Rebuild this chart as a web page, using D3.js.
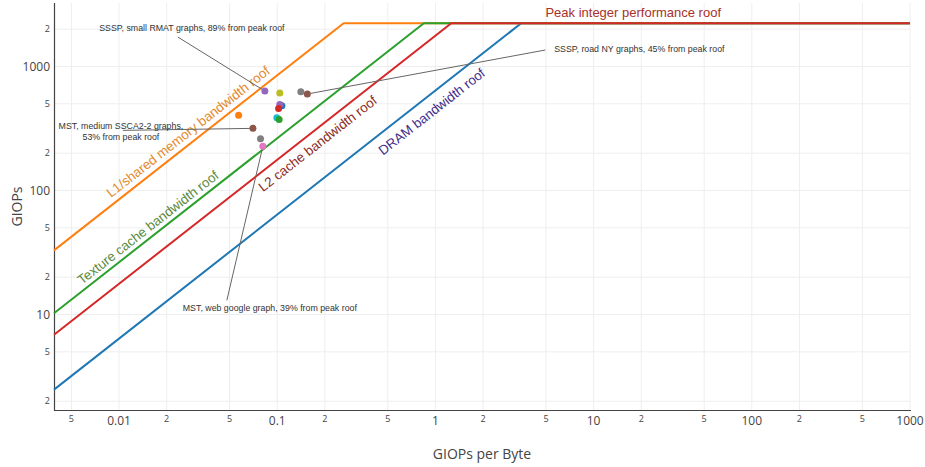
<!DOCTYPE html>
<html>
<head>
<meta charset="utf-8">
<script src="https://cdn.jsdelivr.net/npm/d3@7"></script>
<style>
  body { margin: 0; background: #fff; }
  text { font-family: "Liberation Sans", Arial, sans-serif; }
  .tick-label, .axis-title { font-family: "Open Sans", verdana, arial, sans-serif; fill: #444; }
</style>
</head>
<body>
<div id="roofline"></div>
<script>
// roofs (GIOPs per byte -> GIOPs)
var roofNames = ["DRAM bandwidth roof", "L1/shared memory bandwidth roof", "Texture cache bandwidth roof", "L2 cache bandwidth roof"];
var roofBandwidth = [640, 8480, 2640, 1770];   // GB/s
var peakGiops = 2230;
var peakName = "Peak integer performance roof";

// measured kernels
var pointIntensity = [0.0835, 0.1038, 0.141, 0.155, 0.107, 0.1038, 0.102, 0.057, 0.0994, 0.1028, 0.0702, 0.0784, 0.0811];
var pointGiops     = [634, 611, 626, 600, 483, 494, 459, 404, 386, 373, 317, 262, 227];

// annotated kernels (index into the point arrays)
var noteTarget = [0, 3, 10, 12];
var noteText = [
  ["SSSP, small RMAT graphs, 89% from peak roof"],
  ["SSSP, road NY graphs, 45% from peak roof"],
  ["MST, medium SSCA2-2 graphs,", "53% from peak roof"],
  ["MST, web google graph, 39% from peak roof"]
];

// axis ticks
var decades = [0.001, 0.01, 0.1, 1, 10, 100, 1000];
var tickMultipliers = [1, 2, 5];

// ---- styles / layout ----
var roofColors = ["#1f77b4", "#ff7f0e", "#2ca02c", "#d62728"];
var roofLabelColors = ["#3f2d8c", "#e3892b", "#5b8a3c", "#8b2c22"];
var peakLabelColor = "#a8302a";
var pointColors = ["#9467bd", "#bcbd22", "#7f7f7f", "#8c564b", "#1f77b4", "#9467bd", "#d62728",
                   "#ff7f0e", "#17becf", "#2ca02c", "#8c564b", "#7f7f7f", "#e377c2"];
// label anchors in data units
var roofLabelAt = [[0.946, 433], [0.0273, 298], [0.01524, 50.4], [0.180, 239]];
var peakLabelAt = [17.8, 2705];
// annotation text centre / leader start, pixel offsets from the point
var noteTextOffset = [[-73, -63], [332, -45], [-132, 3], [7, 162]];
var noteLineOffset = [[-87, -54], [238, -44], [-130, 2], [-36, 154]];

var width = 925, height = 467;
var plot = {left: 54, right: 910, top: 3, bottom: 410};

var svg = d3.select("#roofline")
    .append("svg")
    .attr("width", width)
    .attr("height", height);

var x = d3.scaleLog()
    .domain([0.00388, 1000])
    .range([plot.left, plot.right]);

var y = d3.scaleLog()
    .domain([1.70, 3250])
    .range([plot.bottom, plot.top]);

function ticksFor(scale) {
    var dom = scale.domain(), out = [];
    decades.forEach(function(d) {
        tickMultipliers.forEach(function(m) {
            var v = d * m;
            if (v >= dom[0] * 0.999 && v <= dom[1] * 1.001) out.push({v: v, major: m == 1});
        });
    });
    return out;
}
var xTicks = ticksFor(x), yTicks = ticksFor(y);

// grid
svg.append("g").selectAll("line")
    .data(xTicks).enter().append("line")
    .attr("x1", function(d) { return x(d.v) }).attr("x2", function(d) { return x(d.v) })
    .attr("y1", plot.top).attr("y2", plot.bottom)
    .attr("stroke", "#eee").attr("stroke-width", 1);
svg.append("g").selectAll("line")
    .data(yTicks).enter().append("line")
    .attr("x1", plot.left).attr("x2", plot.right)
    .attr("y1", function(d) { return y(d.v) }).attr("y2", function(d) { return y(d.v) })
    .attr("stroke", "#eee").attr("stroke-width", 1);

function fmt(v) { return v >= 1 ? String(v) : String(+v.toPrecision(1)); }
function label(d) { return d.major ? fmt(d.v) : String(Math.round(d.v / Math.pow(10, Math.floor(Math.log10(d.v) + 1e-9)))); }

// tick labels
svg.append("g").selectAll("text")
    .data(xTicks).enter().append("text")
    .attr("class", "tick-label")
    .attr("x", function(d) { return x(d.v) })
    .attr("y", function(d) { return d.major ? 421 : 419 })
    .attr("dy", "0.35em")
    .attr("text-anchor", "middle")
    .style("font-size", function(d) { return d.major ? "12px" : "9px" })
    .text(label);
svg.append("g").selectAll("text")
    .data(yTicks).enter().append("text")
    .attr("class", "tick-label")
    .attr("x", plot.left - 4)
    .attr("y", function(d) { return y(d.v) })
    .attr("dy", "0.35em")
    .attr("text-anchor", "end")
    .style("font-size", function(d) { return d.major ? "12px" : "9px" })
    .text(label);

// axis lines
svg.append("line")
    .attr("x1", plot.left).attr("x2", plot.right + 1)
    .attr("y1", plot.bottom + 0.5).attr("y2", plot.bottom + 0.5)
    .attr("stroke", "#444").attr("stroke-width", 1.2);
svg.append("line")
    .attr("x1", plot.left + 0.5).attr("x2", plot.left + 0.5)
    .attr("y1", plot.top).attr("y2", plot.bottom + 1)
    .attr("stroke", "#444").attr("stroke-width", 1.2);

// axis titles
svg.append("text").attr("class", "axis-title")
    .attr("x", (plot.left + plot.right) / 2).attr("y", 454)
    .attr("dy", "0.35em").attr("text-anchor", "middle")
    .style("font-size", "14px").text("GIOPs per Byte");
svg.append("text").attr("class", "axis-title")
    .attr("transform", "translate(17," + ((plot.top + plot.bottom) / 2) + ") rotate(-90)")
    .attr("dy", "0.35em").attr("text-anchor", "middle")
    .style("font-size", "14px").text("GIOPs");

// roof lines
var line = d3.line()
    .x(function(d) { return x(d[0]) })
    .y(function(d) { return y(d[1]) });
var xDom = x.domain();
roofBandwidth.forEach(function(bw, i) {
    var pts = [[xDom[0], bw * xDom[0]], [peakGiops / bw, peakGiops], [xDom[1], peakGiops]];
    svg.append("path")
      .datum(pts)
      .attr("fill", "none")
      .attr("stroke", roofColors[i])
      .attr("stroke-width", 2)
      .attr("d", line);
});

// roof labels, rotated along the slope-1 lines
var slopeAngle = Math.atan2(y(1) - y(10), x(10) - x(1)) * 180 / Math.PI;
roofNames.forEach(function(name, i) {
    var p = roofLabelAt[i];
    svg.append("text")
      .attr("transform", "translate(" + x(p[0]) + "," + y(p[1]) + ") rotate(" + (-slopeAngle) + ")")
      .attr("text-anchor", "middle")
      .attr("dy", "0.35em")
      .style("font-size", "13.4px")
      .attr("fill", roofLabelColors[i])
      .text(name);
});
svg.append("text")
    .attr("x", x(peakLabelAt[0])).attr("y", y(peakLabelAt[1]))
    .attr("text-anchor", "middle").attr("dy", "0.35em")
    .style("font-size", "13px")
    .attr("fill", peakLabelColor)
    .text(peakName);

// annotation leaders
noteTarget.forEach(function(k, i) {
    var px = x(pointIntensity[k]), py = y(pointGiops[k]);
    var sx = px + noteLineOffset[i][0], sy = py + noteLineOffset[i][1];
    var len = Math.hypot(px - sx, py - sy), stand = 3;
    svg.append("line")
      .attr("x1", sx).attr("y1", sy)
      .attr("x2", px - (px - sx) / len * stand).attr("y2", py - (py - sy) / len * stand)
      .attr("stroke", "#666").attr("stroke-width", 1);
});

// points
svg.append("g").selectAll("circle")
    .data(pointIntensity).enter().append("circle")
    .attr("cx", function(d) { return x(d) })
    .attr("cy", function(d, i) { return y(pointGiops[i]) })
    .attr("r", 3.5)
    .attr("fill", function(d, i) { return pointColors[i] });

// annotation texts
noteTarget.forEach(function(k, i) {
    var px = x(pointIntensity[k]), py = y(pointGiops[k]);
    var lines = noteText[i], lh = 10.5;
    var t = svg.append("text")
      .attr("text-anchor", "middle")
      .style("font-size", "8.8px")
      .attr("fill", "#333");
    lines.forEach(function(s, j) {
      t.append("tspan")
        .attr("x", px + noteTextOffset[i][0])
        .attr("y", py + noteTextOffset[i][1] + (j - (lines.length - 1) / 2) * lh)
        .attr("dy", "0.35em")
        .text(s);
    });
});
</script>
</body>
</html>
